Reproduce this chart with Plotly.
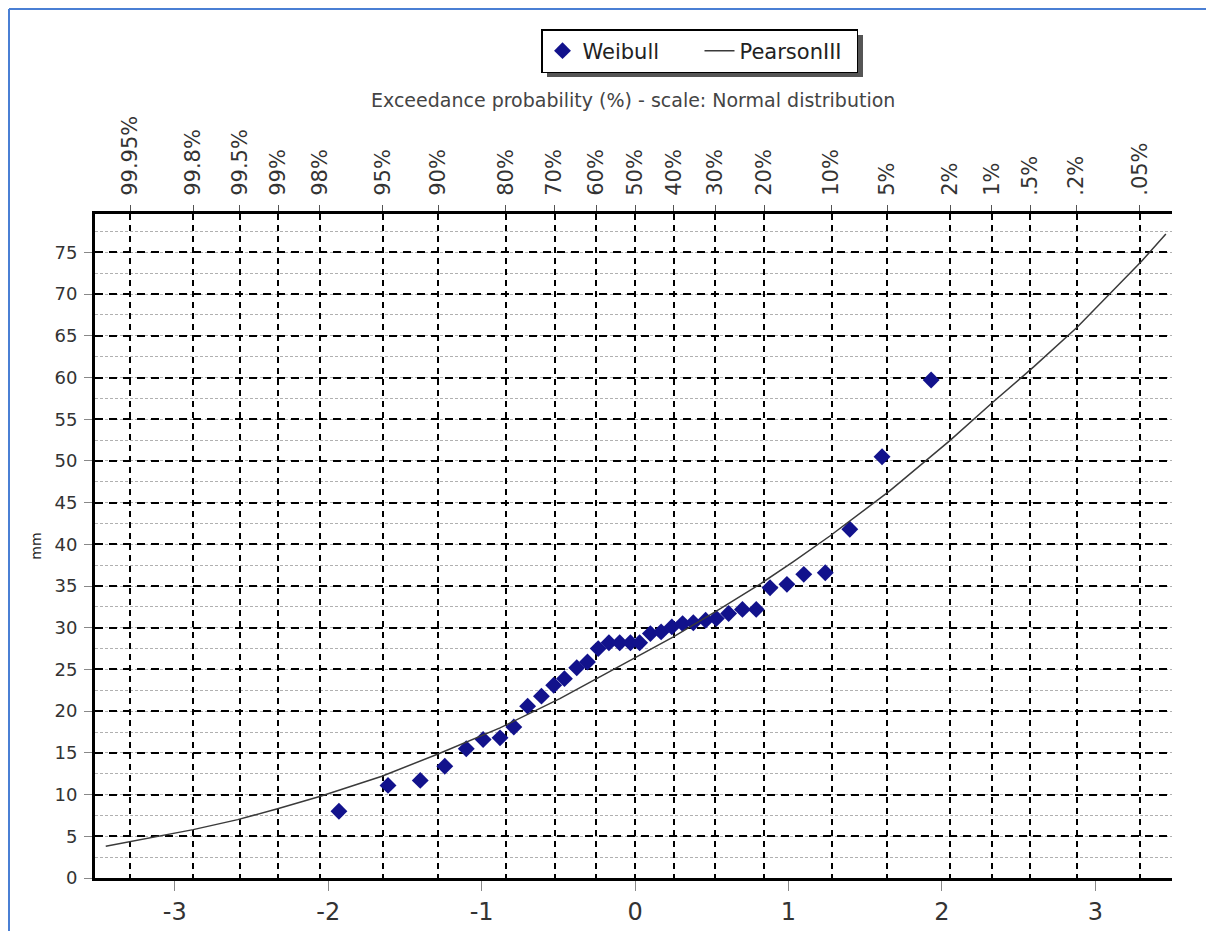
import plotly.graph_objects as go
from statistics import NormalDist

# ---------------- data ----------------
weibull_z = [-1.93, -1.61, -1.40, -1.24, -1.10, -0.99, -0.88, -0.79, -0.70, -0.61,
             -0.53, -0.46, -0.38, -0.31, -0.24, -0.17, -0.10, -0.03, 0.03, 0.10,
             0.17, 0.24, 0.31, 0.38, 0.46, 0.53, 0.61, 0.70, 0.79, 0.88,
             0.99, 1.10, 1.24, 1.40, 1.61, 1.93]
weibull_mm = [8.0, 11.1, 11.7, 13.4, 15.5, 16.6, 16.8, 18.1, 20.6, 21.8,
              23.1, 23.9, 25.2, 25.9, 27.5, 28.2, 28.2, 28.2, 28.2, 29.3,
              29.5, 30.1, 30.5, 30.6, 30.9, 31.1, 31.7, 32.2, 32.2, 34.8,
              35.2, 36.4, 36.6, 41.8, 50.5, 59.7]

pearson_z = [-3.45, -3.0, -2.88, -2.59, -2.33, -2.05, -1.79, -1.65, -1.28, -0.88,
             -0.49, -0.25, 0.0, 0.25, 0.53, 0.82, 1.03, 1.27, 1.66, 2.05,
             2.33, 2.60, 2.88, 3.30, 3.46]
pearson_mm = [3.8, 5.4, 5.8, 7.0, 8.3, 9.8, 11.3, 12.2, 14.9, 18.0,
              21.5, 23.9, 26.3, 28.9, 32.0, 35.3, 37.9, 41.0, 46.4, 52.4,
              57.0, 61.3, 66.0, 73.9, 77.2]

exceed_pct = [99.95, 99.8, 99.5, 99, 98, 95, 90, 80, 70, 60, 50,
              40, 30, 20, 10, 5, 2, 1, 0.5, 0.2, 0.05]
exceed_labels = ["99.95%", "99.8%", "99.5%", "99%", "98%", "95%", "90%", "80%",
                 "70%", "60%", "50%", "40%", "30%", "20%", "10%", "5%", "2%",
                 "1%", ".5%", ".2%", ".05%"]

z_ticks = [-3, -2, -1, 0, 1, 2, 3]
y_ticks = list(range(0, 80, 5))

# ---------------- geometry helpers (page pixel coords) ----------------
OFF = 8                      # browser body margin
FW, FH = 1214, 931
L, R, T, B = 95, 1172, 214, 878   # plot area in page pixels
W, H = R - L, B - T


def px(x):
    return (x - L) / W


def py(y):
    return (B - y) / H


nd = NormalDist()
exceed_z = [nd.inv_cdf(1 - p / 100.0) for p in exceed_pct]

XR = [-3.52, 3.50]
YR = [0, 79.6]
FONT = "DejaVu Sans"

fig = go.Figure()
fig.add_trace(go.Scatter(
    x=weibull_z, y=weibull_mm, mode="markers", name="Weibull",
    marker=dict(symbol="diamond", size=13, color="#12128c"),
))
fig.add_trace(go.Scatter(
    x=pearson_z, y=pearson_mm, mode="lines", name="PearsonIII",
    line=dict(color="#3a3a3a", width=1.5),
))
# dummy trace to activate the top axis
fig.add_trace(go.Scatter(x=[None], y=[None], xaxis="x2", showlegend=False,
                         hoverinfo="skip"))

fig.update_layout(
    width=FW, height=FH,
    margin=dict(l=L - OFF, r=FW - (R - OFF), t=T - OFF, b=FH - (B - OFF),
                autoexpand=False),
    paper_bgcolor="white", plot_bgcolor="white",
    font=dict(family=FONT, color="#333333"),
    xaxis=dict(
        range=XR, tickvals=z_ticks, ticktext=[str(v) for v in z_ticks],
        showgrid=False, zeroline=False,
        showline=True, linecolor="black", linewidth=3,
        ticks="outside", ticklen=10, tickcolor="#888888", tickwidth=1,
        tickfont=dict(size=24, color="#333333"),
    ),
    xaxis2=dict(
        range=XR, overlaying="x", side="top", anchor="y",
        tickmode="array", tickvals=exceed_z, ticktext=exceed_labels,
        tickangle=-90, tickfont=dict(size=21, color="#333333"),
        ticks="outside", ticklen=6, tickcolor="#555555",
        ticklabelstandoff=5,
        showline=True, linecolor="black", linewidth=3,
        showgrid=True, gridcolor="black", gridwidth=1.5, griddash="6px,5px",
        zeroline=False,
    ),
    yaxis=dict(
        range=YR, tickvals=y_ticks, ticktext=[str(v) for v in y_ticks],
        zeroline=False,
        showline=True, linecolor="black", linewidth=3,
        ticks="outside", ticklen=8, tickcolor="#888888",
        ticklabelstandoff=3,
        tickfont=dict(size=18, color="#333333"),
        showgrid=True, gridcolor="black", gridwidth=1.5, griddash="8px,6px",
        minor=dict(dtick=2.5, tick0=0, showgrid=True, gridcolor="#b0b0b0",
                   gridwidth=1, griddash="3px,2px", ticks=""),
        title=dict(text="mm", font=dict(size=14, color="#222222"), standoff=10),
    ),
    legend=dict(
        orientation="h", x=px(541), y=py(29), xanchor="left", yanchor="top",
        bgcolor="white", bordercolor="black", borderwidth=1.5,
        font=dict(size=21, color="#222222"),
        entrywidth=112, entrywidthmode="pixels",
    ),
    showlegend=True,
)

# title over top axis
fig.add_annotation(
    text="Exceedance probability (%) - scale: Normal distribution",
    xref="paper", yref="paper", x=px(633), y=py(100),
    xanchor="center", yanchor="middle", showarrow=False,
    font=dict(size=19, color="#444444", family=FONT),
)

# legend shadow
fig.add_shape(type="rect", xref="paper", yref="paper",
              x0=px(547), x1=px(863), y0=py(35), y1=py(77),
              fillcolor="#555555", line=dict(width=0), layer="below")

# blue page frame
fig.add_shape(type="line", xref="paper", yref="paper",
              x0=px(9), y0=py(9), x1=px(1214), y1=py(9),
              line=dict(color="#4a7fd4", width=2))
fig.add_shape(type="line", xref="paper", yref="paper",
              x0=px(9), y0=py(9), x1=px(9), y1=py(931),
              line=dict(color="#4a7fd4", width=2))

fig.write_html("out.html")
